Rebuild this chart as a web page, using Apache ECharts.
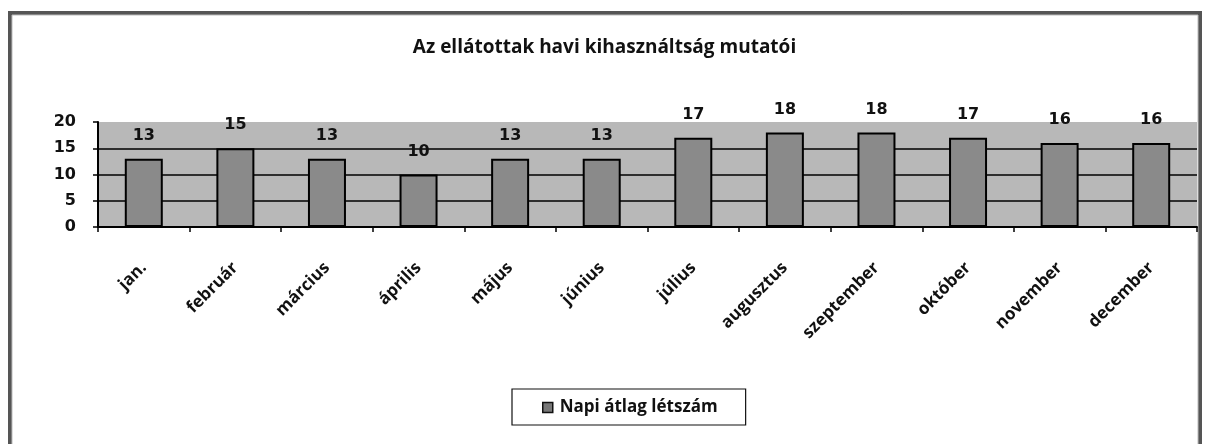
<!DOCTYPE html>
<html>
<head>
<meta charset="utf-8">
<script src="https://cdn.jsdelivr.net/npm/echarts@6/dist/echarts.min.js"></script>
<style>
html,body{margin:0;padding:0;background:#fff;}
#c{width:1209px;height:444px;}
</style>
</head>
<body>
<div id="c"></div>
<script>
const title = 'Az ellátottak havi kihasználtság mutatói';
const seriesName = 'Napi átlag létszám';
const categories = ['jan.','február','március','április','május','június','július','augusztus','szeptember','október','november','december'];
const values = [13,15,13,10,13,13,17,18,18,17,16,16];
const yTicks = [0,5,10,15,20];

const chart = echarts.init(document.getElementById('c'), null, {renderer:'canvas'});
chart.setOption({
  backgroundColor:'#fff',
  animation:false,
  title:{
    text:title, left:'center', top:33,
    textStyle:{fontFamily:'Open Sans', fontWeight:'bold', fontSize:19, color:'#111'}
  },
  legend:{
    data:[seriesName], left:512, top:389, icon:'rect',
    itemWidth:10, itemHeight:10, itemGap:4,
    padding:[10,28,9,30],
    borderColor:'#111', borderWidth:1.2, borderRadius:0,
    textStyle:{fontFamily:'Open Sans', fontWeight:'bold', fontSize:17, color:'#111', padding:[0,0,0,2]},
    itemStyle:{color:'#777', borderColor:'#111', borderWidth:1.5}
  },
  grid:{left:98, right:12, top:122, bottom:217, show:true, backgroundColor:'#b8b8b8', borderWidth:0, containLabel:false},
  xAxis:{
    type:'category', data:categories, boundaryGap:true,
    axisLine:{lineStyle:{color:'#000', width:2}},
    axisTick:{show:true, inside:false, length:5, alignWithLabel:false, lineStyle:{color:'#000', width:1.5}},
    axisLabel:{rotate:45, margin:38, interval:0, fontFamily:'Open Sans', fontWeight:'bold', fontSize:17, color:'#111'}
  },
  yAxis:{
    type:'value', min:yTicks[0], max:yTicks[yTicks.length-1], interval:5,
    axisLine:{show:true, lineStyle:{color:'#000', width:2}},
    axisTick:{show:true, length:5, lineStyle:{color:'#000', width:1.5}},
    axisLabel:{margin:22, fontFamily:'DejaVu Sans', fontWeight:'bold', fontSize:16, color:'#111'},
    splitLine:{show:true, lineStyle:{color:['#000','#000','#000','#000','rgba(0,0,0,0)'], width:1.5}}
  },
  series:[{
    name:seriesName, type:'bar', data:values, barWidth:38,
    itemStyle:{color:'#8a8a8a', borderColor:'#000', borderWidth:2},
    label:{show:true, position:'top', distance:15, fontFamily:'DejaVu Sans', fontWeight:'bold', fontSize:16, color:'#111'}
  }],
  graphic:[
    {type:'rect', shape:{x:10, y:13, width:1190, height:440}, style:{fill:'none', stroke:'#555', lineWidth:4}, z:-1, silent:true},
    {type:'rect', shape:{x:12, y:15, width:1186, height:440}, style:{fill:'none', stroke:'#bbb', lineWidth:1}, z:-1, silent:true}
  ]
});
</script>
</body>
</html>
